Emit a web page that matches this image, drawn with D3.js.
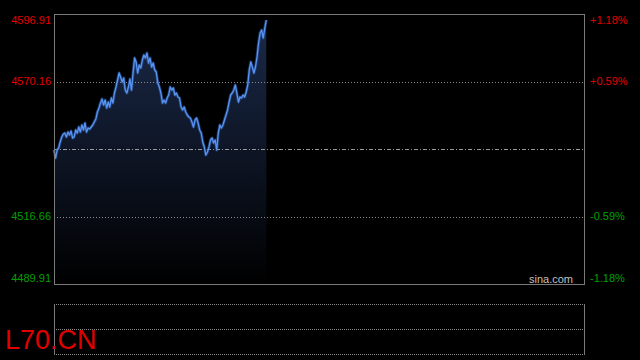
<!DOCTYPE html>
<html>
<head>
<meta charset="utf-8">
<script src="https://cdn.jsdelivr.net/npm/d3@7"></script>
<style>
  html, body { margin: 0; padding: 0; background: #000; }
  svg { display: block; font-family: "Liberation Sans", Arial, sans-serif; }
</style>
</head>
<body>
<div id="my_dataviz"></div>
<script>
// chart values
const symbol = "L70.CN";
const prevClose = 4543.41;
const priceTicks = [4596.91, 4570.16, 4516.66, 4489.91];
const priceLabels = ["4596.91", "4570.16", "4516.66", "4489.91"];
const pctLabels = ["+1.18%", "+0.59%", "-0.59%", "-1.18%"];
const pointsPerDay = 343;
// intraday prices since the open, one per tick
const prices = [
  4543.01, 4539.84, 4543.01, 4543.81, 4546.18, 4548.17, 4549.35, 4549.75, 4548.17, 4550.15,
  4548.96, 4550.54, 4547.77, 4548.17, 4550.94, 4549.75, 4552.13, 4550.15, 4552.92, 4550.94,
  4553.71, 4550.15, 4551.73, 4551.34, 4552.13, 4552.92, 4554.11, 4555.30, 4558.07, 4559.66,
  4561.64, 4563.22, 4560.85, 4562.83, 4559.66, 4562.04, 4560.05, 4563.62, 4561.64, 4565.60,
  4567.98, 4570.75, 4573.53, 4571.94, 4569.96, 4571.55, 4566.79, 4565.60, 4567.98, 4571.15,
  4566.79, 4573.53, 4579.47, 4577.89, 4573.53, 4576.70, 4575.51, 4578.68, 4580.66, 4579.47,
  4581.45, 4577.49, 4579.47, 4575.91, 4577.49, 4574.72, 4573.92, 4569.57, 4567.98, 4565.60,
  4561.64, 4562.83, 4561.64, 4563.62, 4564.81, 4567.98, 4566.79, 4567.58, 4564.81, 4565.60,
  4564.02, 4563.62, 4560.05, 4558.87, 4560.05, 4558.07, 4556.88, 4556.09, 4555.70, 4554.11,
  4552.13, 4554.90, 4555.70, 4553.71, 4550.94, 4549.75, 4546.18, 4544.20, 4541.03, 4542.22,
  4544.20, 4546.98, 4547.77, 4545.79, 4546.98, 4543.01, 4549.75, 4552.92, 4551.73, 4552.92,
  4554.90, 4556.88, 4558.87, 4562.04, 4564.81, 4565.60, 4566.79, 4568.77, 4565.60, 4562.04,
  4564.02, 4563.62, 4564.81, 4564.02, 4566.00, 4568.77, 4574.72, 4577.89, 4575.91, 4573.53,
  4575.91, 4579.87, 4585.42, 4589.38, 4590.57, 4587.40, 4591.36, 4594.53
];

const width = 640, height = 360;
// main panel and volume panel boxes
const main = {left: 54, right: 584, top: 14, bottom: 284};
const vol = {top: 304, bottom: 354};

const svg = d3.select("#my_dataviz")
  .append("svg")
    .attr("width", width)
    .attr("height", height);

svg.append("rect")
  .attr("width", width).attr("height", height)
  .attr("fill", "#000");

// scales
const x = d3.scaleLinear()
  .domain([0, pointsPerDay - 1])
  .range([main.left, main.right]);
const y = d3.scaleLinear()
  .domain([priceTicks[3], priceTicks[0]])
  .range([main.bottom, main.top]);

// gradient for the area under the line
const defs = svg.append("defs");
const grad = defs.append("linearGradient")
  .attr("id", "areaGrad")
  .attr("x1", 0).attr("y1", 0).attr("x2", 0).attr("y2", 1);
grad.append("stop").attr("offset", "0%").attr("stop-color", "#1b2a4a");
grad.append("stop").attr("offset", "100%").attr("stop-color", "#000");

const area = d3.area()
  .x((d, i) => x(i))
  .y0(y(priceTicks[3]))
  .y1(d => y(d));
svg.append("path")
  .datum(prices)
  .attr("d", area)
  .attr("fill", "url(#areaGrad)");

// dotted grid lines
svg.selectAll(".grid")
  .data([priceTicks[1], priceTicks[2]])
  .enter()
  .append("line")
    .attr("x1", main.left).attr("x2", main.right)
    .attr("y1", d => Math.round(y(d)) + 0.5)
    .attr("y2", d => Math.round(y(d)) + 0.5)
    .attr("stroke", "#8a8a8a")
    .attr("stroke-dasharray", "1,2");

// previous close line
svg.append("line")
  .attr("x1", main.left).attr("x2", main.right)
  .attr("y1", Math.round(y(prevClose)) + 0.5)
  .attr("y2", Math.round(y(prevClose)) + 0.5)
  .attr("stroke", "#9a9a9a")
  .attr("stroke-dasharray", "4,2,1,2");

// price line (glow + line)
const line = d3.line()
  .x((d, i) => x(i))
  .y(d => y(d));
svg.append("path")
  .datum(prices)
  .attr("d", line)
  .attr("fill", "none")
  .attr("stroke", "#2f62b8")
  .attr("stroke-opacity", 0.55)
  .attr("stroke-width", 3)
  .attr("stroke-linejoin", "round");
svg.append("path")
  .datum(prices)
  .attr("d", line)
  .attr("fill", "none")
  .attr("stroke", "#5a94f2")
  .attr("stroke-width", 1.3)
  .attr("stroke-linejoin", "round");

// main box
svg.append("rect")
  .attr("x", main.left + 0.5).attr("y", main.top + 0.5)
  .attr("width", main.right - main.left).attr("height", main.bottom - main.top)
  .attr("fill", "none")
  .attr("stroke", "#7a7a7a");

// left price labels and right percent labels
const labelY = (d, i) => i === 0 ? y(d) + 6 : i === 3 ? y(d) - 6 : y(d);
const labelColor = d => d > prevClose ? "#e00000" : "#00a000";

svg.selectAll(".plabel")
  .data(priceTicks)
  .enter()
  .append("text")
    .attr("x", 51)
    .attr("y", labelY)
    .attr("dy", "0.35em")
    .attr("text-anchor", "end")
    .attr("font-size", "11px")
    .attr("fill", labelColor)
    .text((d, i) => priceLabels[i]);

svg.selectAll(".rlabel")
  .data(priceTicks)
  .enter()
  .append("text")
    .attr("x", 590)
    .attr("y", labelY)
    .attr("dy", "0.35em")
    .attr("font-size", "11px")
    .attr("fill", labelColor)
    .text((d, i) => pctLabels[i]);

svg.append("text")
  .attr("x", 573).attr("y", 279)
  .attr("dy", "0.35em")
  .attr("text-anchor", "end")
  .attr("font-size", "11px")
  .attr("fill", "#c0c0c0")
  .text("sina.com");

// volume panel (empty)
const yv = d3.scaleLinear().domain([0, 2]).range([vol.bottom, vol.top]);
svg.selectAll(".vgrid")
  .data([0, 1, 2])
  .enter()
  .append("line")
    .attr("x1", main.left).attr("x2", main.right + 1)
    .attr("y1", d => yv(d) + 0.5).attr("y2", d => yv(d) + 0.5)
    .attr("stroke", "#8a8a8a")
    .attr("stroke-dasharray", "1,1");
svg.selectAll(".vside")
  .data([main.left, main.right])
  .enter()
  .append("line")
    .attr("x1", d => d + 0.5).attr("x2", d => d + 0.5)
    .attr("y1", vol.top + 0.5).attr("y2", vol.bottom + 0.5)
    .attr("stroke", "#7a7a7a");

svg.append("text")
  .attr("x", 5).attr("y", 349)
  .attr("font-size", "27px")
  .attr("fill", "#e00000")
  .text(symbol);
</script>
</body>
</html>
